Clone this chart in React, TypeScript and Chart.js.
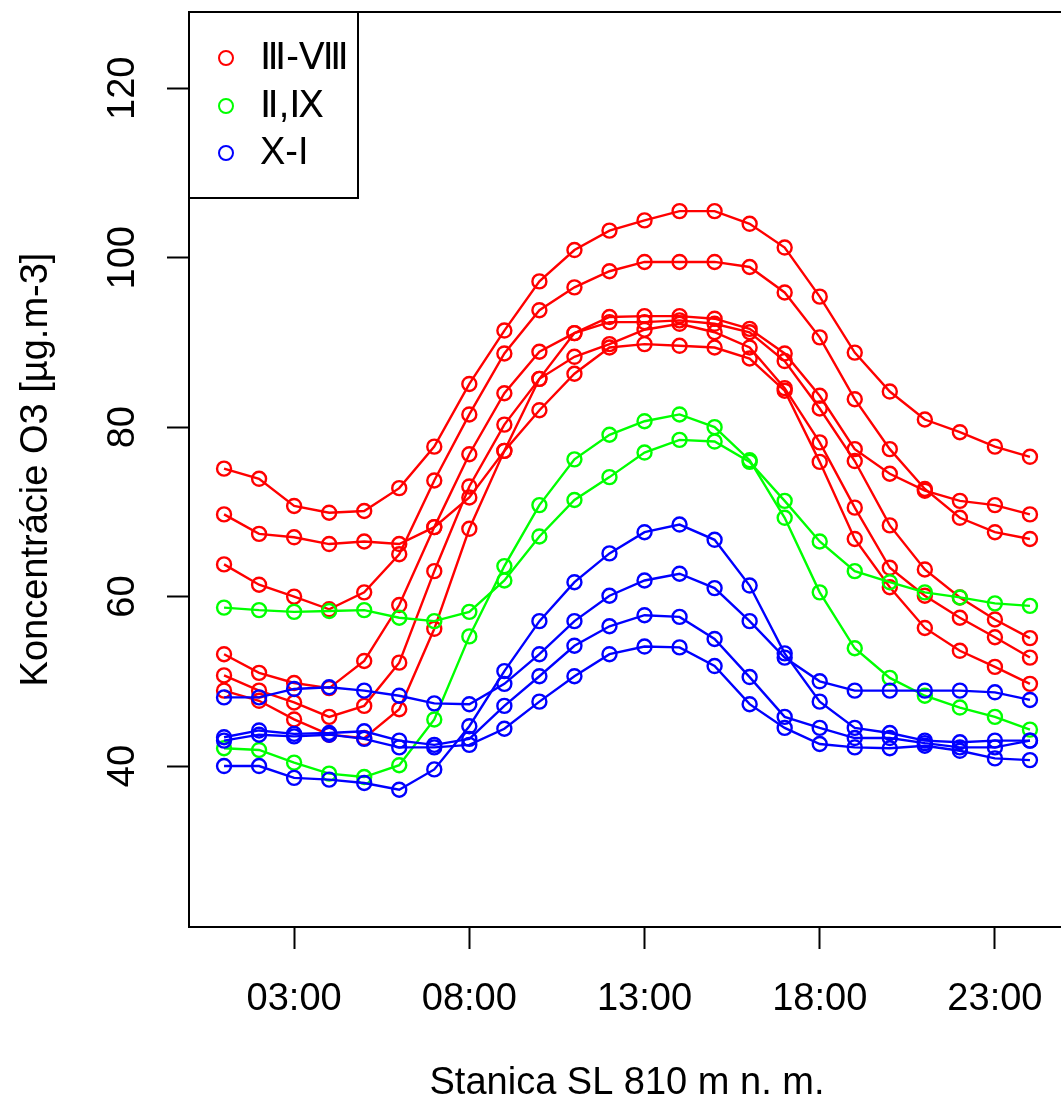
import React, { useEffect, useRef } from "react";
import { Chart, registerables } from "chart.js";

Chart.register(...registerables);

// ---- data ----
const hours = [1, 2, 3, 4, 5, 6, 7, 8, 9, 10, 11, 12, 13, 14, 15, 16, 17, 18, 19, 20, 21, 22, 23, 24];
const xTickValues = [3, 8, 13, 18, 23];
const xTickLabels = ["03:00", "08:00", "13:00", "18:00", "23:00"];
const yTickValues = [40, 60, 80, 100, 120];

const groupNames = ["Ⅲ-Ⅷ", "Ⅱ,Ⅸ", "X-I"];
const groupColors = ["#FF0000", "#00FF00", "#0000FF"];

// III-VIII (red)
const red1 = [75.1, 73.9, 70.7, 69.9, 70.1, 72.8, 77.7, 85.1, 91.4, 97.2, 100.9, 103.2, 104.4, 105.5, 105.5, 104.0, 101.2, 95.4, 88.8, 84.2, 80.9, 79.4, 77.7, 76.5];
const red2 = [63.8, 61.4, 60.0, 58.5, 60.5, 65.0, 73.7, 81.5, 88.7, 93.8, 96.5, 98.4, 99.5, 99.5, 99.5, 98.9, 95.9, 90.6, 83.3, 77.4, 72.7, 69.3, 67.6, 66.8];
const red3 = [69.7, 67.4, 67.0, 66.2, 66.5, 66.2, 68.2, 71.7, 77.2, 85.7, 91.1, 92.4, 92.4, 92.6, 92.2, 91.2, 87.8, 82.2, 76.0, 68.4, 63.2, 59.9, 57.3, 55.1];
const red4 = [53.2, 51.0, 49.8, 49.2, 52.4, 59.0, 68.2, 76.8, 84.0, 88.9, 91.1, 93.0, 93.1, 93.1, 92.8, 91.6, 88.7, 83.7, 77.4, 74.5, 72.5, 71.3, 70.8, 69.7];
const red5 = [50.7, 48.9, 47.5, 45.8, 47.1, 52.2, 63.0, 73.0, 80.3, 85.7, 88.3, 89.8, 91.5, 92.2, 91.2, 89.4, 84.6, 78.2, 70.5, 63.4, 60.1, 57.5, 55.2, 52.8];
const red6 = [48.9, 47.7, 45.5, 43.7, 43.3, 46.7, 56.2, 68.0, 77.2, 82.0, 86.3, 89.4, 89.8, 89.6, 89.4, 88.1, 84.3, 75.9, 66.8, 61.1, 56.3, 53.6, 51.7, 49.7];

// II,IX (green)
const green1 = [58.7, 58.4, 58.2, 58.3, 58.4, 57.5, 57.1, 58.2, 61.9, 67.1, 71.4, 74.1, 77.0, 78.5, 78.3, 75.9, 71.3, 66.5, 63.0, 61.7, 60.5, 59.9, 59.2, 58.9];
const green2 = [42.1, 41.9, 40.4, 39.1, 38.7, 40.1, 45.5, 55.3, 63.6, 70.8, 76.2, 79.1, 80.7, 81.5, 80.0, 76.1, 69.3, 60.5, 53.9, 50.4, 48.3, 46.9, 45.8, 44.3];

// X-I (blue)
const blue1 = [48.1, 48.1, 49.1, 49.3, 48.9, 48.3, 47.4, 47.3, 49.7, 53.2, 57.1, 60.1, 61.9, 62.7, 61.0, 57.1, 52.8, 50.0, 48.9, 48.9, 48.9, 48.9, 48.7, 47.8];
const blue2 = [43.4, 44.2, 43.8, 43.9, 44.1, 43.0, 42.5, 43.2, 47.1, 50.6, 54.2, 56.5, 57.8, 57.6, 55.0, 50.5, 45.8, 44.5, 43.3, 43.3, 42.7, 42.2, 42.2, 43.0];
const blue3 = [43.0, 43.7, 43.5, 43.7, 43.2, 42.2, 42.2, 42.5, 44.4, 47.6, 50.6, 53.2, 54.1, 54.0, 51.8, 47.3, 44.5, 42.6, 42.2, 42.1, 42.4, 41.8, 40.9, 40.7];
const blue4 = [40.0, 40.0, 38.6, 38.4, 38.0, 37.2, 39.6, 44.7, 51.2, 57.1, 61.7, 65.1, 67.6, 68.5, 66.7, 61.3, 53.3, 47.6, 44.5, 43.9, 43.0, 42.8, 43.0, 43.0];

const redSeries = [red1, red2, red3, red4, red5, red6];
const greenSeries = [green1, green2];
const blueSeries = [blue1, blue2, blue3, blue4];

const xTitle = "Stanica SL 810 m n. m.";
const yTitle = "Koncentrácie O3 [µg.m-3]";

const FONT_FAMILY = '"Liberation Sans", Arial, "DejaVu Sans", sans-serif';
const FONT = `38px ${FONT_FAMILY}`;

function makeDatasets() {
  const groups = [
    { name: groupNames[2], color: groupColors[2], series: blueSeries, order: 0 },
    { name: groupNames[1], color: groupColors[1], series: greenSeries, order: 1 },
    { name: groupNames[0], color: groupColors[0], series: redSeries, order: 2 },
  ];
  const ds: any[] = [];
  groups.forEach((g) => {
    g.series.forEach((vals) => {
      ds.push({
        label: g.name,
        data: hours.map((h, i) => ({ x: h, y: vals[i] })),
        borderColor: g.color,
        borderWidth: 2.4,
        pointRadius: 7,
        pointBorderWidth: 2.4,
        pointBorderColor: g.color,
        pointBackgroundColor: "rgba(0,0,0,0)",
        pointStyle: "circle",
        tension: 0,
        fill: false,
        order: g.order,
      });
    });
  });
  return ds;
}

const rStylePlugin = {
  id: "rStyle",
  afterDraw(chart: any) {
    const { ctx, chartArea: a, scales } = chart;
    ctx.save();
    // plot box
    ctx.strokeStyle = "#000";
    ctx.lineWidth = 2;
    ctx.strokeRect(a.left, a.top, a.right - a.left, a.bottom - a.top);

    ctx.fillStyle = "#000";
    ctx.font = FONT;
    ctx.textAlign = "center";
    ctx.textBaseline = "middle";

    // y tick labels (rotated, R style)
    const ys = scales.y;
    ys.ticks.forEach((t: any) => {
      const py = ys.getPixelForValue(t.value);
      ctx.save();
      ctx.translate(124, py);
      ctx.rotate(-Math.PI / 2);
      ctx.fillText(String(t.value), 0, 0);
      ctx.restore();
    });

    // axis titles
    ctx.fillText(xTitle, (a.left + a.right) / 2, 1084);
    ctx.save();
    ctx.translate(37, (a.top + a.bottom) / 2);
    ctx.rotate(-Math.PI / 2);
    ctx.fillText(yTitle, 0, 0);
    ctx.restore();

    // legend
    const lx = a.left, ly = a.top, lw = 169, lh = 186;
    ctx.fillStyle = "#fff";
    ctx.fillRect(lx, ly, lw, lh);
    ctx.strokeStyle = "#000";
    ctx.lineWidth = 2;
    ctx.strokeRect(lx, ly, lw, lh);
    const rowY = [58, 106, 153];
    groupNames.forEach((name, i) => {
      ctx.beginPath();
      ctx.strokeStyle = groupColors[i];
      ctx.lineWidth = 2;
      ctx.arc(lx + 37, rowY[i], 7, 0, Math.PI * 2);
      ctx.stroke();
      ctx.fillStyle = "#000";
      ctx.textAlign = "left";
      ctx.fillText(name, lx + 71, rowY[i] + 1);
    });
    ctx.restore();
  },
};

export default function App() {
  const ref = useRef<HTMLCanvasElement | null>(null);
  useEffect(() => {
    if (!ref.current) return;
    const chart = new Chart(ref.current, {
      type: "line",
      data: { datasets: makeDatasets() },
      options: {
        animation: false,
        responsive: false,
        devicePixelRatio: 1,
        layout: { padding: { top: 12, right: 15, left: 0, bottom: 0 } },
        plugins: { legend: { display: false }, tooltip: { enabled: false } },
        scales: {
          x: {
            type: "linear",
            min: 0,
            max: 25,
            afterBuildTicks: (s: any) => {
              s.ticks = xTickValues.map((v) => ({ value: v }));
            },
            afterFit: (s: any) => {
              s.height = 184;
            },
            ticks: {
              autoSkip: false,
              maxRotation: 0,
              minRotation: 0,
              padding: 28,
              color: "#000",
              font: { family: FONT_FAMILY, size: 38 },
              callback: (v: any) => {
                const i = xTickValues.indexOf(Number(v));
                return i >= 0 ? xTickLabels[i] : "";
              },
            },
            grid: {
              drawOnChartArea: false,
              drawTicks: true,
              tickLength: 22,
              tickWidth: 2,
              tickColor: "#000",
              color: "#000",
            },
            border: { display: false },
          },
          y: {
            type: "linear",
            min: 21,
            max: 129,
            afterBuildTicks: (s: any) => {
              s.ticks = yTickValues.map((v) => ({ value: v }));
            },
            afterFit: (s: any) => {
              s.width = 189;
            },
            ticks: { display: false },
            grid: {
              drawOnChartArea: false,
              drawTicks: true,
              tickLength: 22,
              tickWidth: 2,
              tickColor: "#000",
              color: "#000",
            },
            border: { display: false },
          },
        },
      },
      plugins: [rStylePlugin],
    });
    return () => chart.destroy();
  }, []);

  return (
    <div
      style={{
        position: "absolute",
        left: 0,
        top: 0,
        width: 1061,
        height: 1111,
        overflow: "hidden",
        background: "#fff",
      }}
    >
      <canvas ref={ref} width={1080} height={1111} style={{ display: "block" }} />
    </div>
  );
}
